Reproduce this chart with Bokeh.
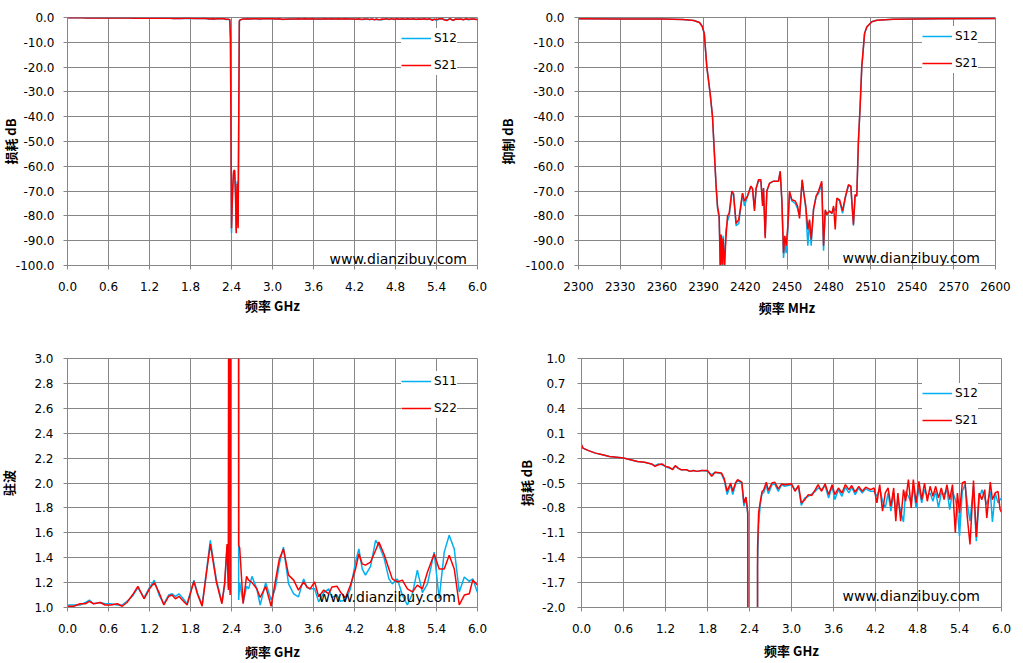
from bokeh.plotting import figure
from bokeh.models import Range1d, FixedTicker, PrintfTickFormatter, Legend, LegendItem, Label
from bokeh.layouts import row, column
from bokeh.embed import file_html
from bokeh.resources import INLINE

# ---------------- data ----------------
# broadband insertion loss, 0-6 GHz (S12 / S21, dB)
bb_freq_ghz = [0.00, 0.02, 0.10, 0.20, 0.30, 0.40, 0.50, 0.60, 0.70, 0.80, 0.90, 1.00, 1.05, 1.10, 1.15,
               1.20, 1.25, 1.30, 1.34, 1.38, 1.42, 1.50, 1.55, 1.60, 1.65, 1.72, 1.80, 1.86, 1.91, 2.00,
               2.04, 2.08, 2.13, 2.16, 2.20, 2.23, 2.29, 2.32, 2.35, 2.375, 2.385, 2.40, 2.415, 2.43, 2.445,
               2.459, 2.469, 2.483, 2.497, 2.508, 2.515, 2.53, 2.555, 2.58, 2.60, 2.64, 2.67, 2.72, 2.76,
               2.81, 2.86, 2.90, 3.00, 3.05, 3.10, 3.14, 3.19, 3.24, 3.29, 3.34, 3.38, 3.43, 3.48, 3.53,
               3.58, 3.62, 3.67, 3.72, 3.77, 3.82, 3.86, 3.91, 3.96, 4.01, 4.06, 4.13, 4.18, 4.22, 4.26,
               4.30, 4.34, 4.38, 4.42, 4.46, 4.49, 4.52, 4.56, 4.60, 4.63, 4.67, 4.71, 4.74, 4.78, 4.82,
               4.86, 4.90, 4.94, 4.98, 5.02, 5.06, 5.10, 5.14, 5.18, 5.22, 5.26, 5.30, 5.34, 5.37, 5.40,
               5.44, 5.48, 5.51, 5.55, 5.60, 5.64, 5.68, 5.72, 5.76, 5.79, 5.84, 5.87, 5.91, 5.95, 5.98, 6.00]
bb_s21_db = [-0.04, -0.08, -0.11, -0.14, -0.16, -0.18, -0.19, -0.20, -0.22, -0.24, -0.25, -0.27, -0.30, -0.28, -0.27,
             -0.30, -0.31, -0.34, -0.29, -0.32, -0.34, -0.34, -0.36, -0.35, -0.36, -0.35, -0.35, -0.42, -0.37, -0.38,
             -0.45, -0.60, -0.50, -0.60, -0.50, -0.46, -0.49, -0.74, -0.67, -0.85, -8.0, -85.0, -70.0, -62.0, -61.5,
             -71.0, -87.0, -67.0, -85.0, -30.0, -1.30, -0.86, -0.72, -0.60, -0.59, -0.49, -0.59, -0.50, -0.49,
             -0.57, -0.51, -0.52, -0.51, -0.60, -0.53, -0.74, -0.70, -0.64, -0.65, -0.58, -0.52, -0.60, -0.51, -0.64,
             -0.52, -0.64, -0.56, -0.62, -0.52, -0.58, -0.53, -0.61, -0.54, -0.60, -0.55, -0.58, -0.56, -0.74, -0.52,
             -0.84, -0.62, -0.56, -0.78, -0.56, -0.96, -0.62, -0.96, -0.58, -0.72, -0.46, -0.80, -0.46, -0.74, -0.48,
             -0.70, -0.50, -0.72, -0.54, -0.66, -0.54, -0.68, -0.56, -0.70, -0.52, -0.70, -0.52, -1.10, -0.62, -0.86,
             -0.50, -0.48, -0.90, -1.24, -0.47, -1.15, -0.62, -0.70, -0.58, -0.92, -0.49, -0.70, -0.62, -0.60, -0.82, -0.85]
bb_s12_db = [-0.04, -0.08, -0.11, -0.14, -0.16, -0.18, -0.19, -0.20, -0.22, -0.24, -0.25, -0.27, -0.29, -0.27, -0.28,
             -0.30, -0.32, -0.33, -0.30, -0.32, -0.34, -0.34, -0.36, -0.35, -0.36, -0.35, -0.36, -0.40, -0.37, -0.39,
             -0.47, -0.64, -0.52, -0.64, -0.52, -0.47, -0.50, -0.78, -0.68, -0.88, -9.0, -87.0, -72.0, -63.0, -62.0,
             -72.0, -86.0, -66.0, -84.0, -32.0, -1.50, -1.00, -0.75, -0.62, -0.62, -0.53, -0.63, -0.52, -0.51,
             -0.60, -0.52, -0.54, -0.52, -0.58, -0.55, -0.77, -0.68, -0.66, -0.63, -0.60, -0.56, -0.58, -0.53, -0.68,
             -0.54, -0.70, -0.58, -0.66, -0.55, -0.62, -0.55, -0.64, -0.56, -0.62, -0.57, -0.60, -0.60, -0.66, -0.56,
             -0.72, -0.80, -0.62, -0.84, -0.62, -0.86, -0.70, -0.84, -0.97, -0.60, -0.66, -0.74, -0.54, -0.80, -0.56,
             -0.74, -0.58, -0.66, -0.62, -0.72, -0.60, -0.80, -0.62, -0.64, -0.58, -0.82, -0.60, -0.70, -0.82, -1.14,
             -0.60, -0.52, -0.74, -0.96, -0.54, -1.20, -0.70, -0.58, -0.68, -0.76, -0.60, -0.97, -0.62, -0.74, -0.70, -0.68]

# narrowband rejection, 2300-2600 MHz (S12 / S21, dB)
nb_freq_mhz = [2300, 2330, 2360, 2375, 2383, 2387, 2389, 2390.5, 2392.3, 2394.7, 2396.4, 2397.6, 2399.0, 2400.0,
               2401.2, 2402.0, 2402.6, 2403.4, 2404.0, 2405.0, 2406.0, 2407.2, 2408.4, 2410.3, 2411.5, 2413.4,
               2415.3, 2418.0, 2419.4, 2421.6, 2424.0, 2425.2, 2426.6, 2427.8, 2429.5, 2431.2, 2432.4, 2433.1,
               2434.3, 2435.5, 2437.4, 2440.3, 2443.9, 2445.1, 2446.3, 2447.5, 2448.4, 2449.4, 2450.6, 2451.8,
               2453.5, 2455.9, 2457.6, 2459.0, 2460.9, 2461.9, 2463.5, 2465.0, 2466.2, 2467.4, 2469.1, 2471.0,
               2472.7, 2475.0, 2476.3, 2477.5, 2478.7, 2480.6, 2482.3, 2483.5, 2484.7, 2485.9, 2487.8, 2490.0,
               2491.8, 2494.2, 2495.9, 2497.8, 2499.0, 2500.2, 2501.4, 2502.6, 2503.8, 2505.8, 2507.4, 2511.0,
               2514.6, 2526.6, 2560, 2600]
nb_s21_db = [-0.5, -0.6, -0.6, -0.8, -1.2, -2.0, -3.5, -6.5, -19.8, -30.6, -40.0, -53.0, -68.0, -76.0,
             -80.0, -100.5, -87.5, -99.6, -89.0, -101.0, -89.5, -80.0, -79.0, -70.0, -71.0, -83.0,
             -81.5, -70.8, -74.0, -72.0, -68.0, -69.0, -78.0, -68.8, -65.4, -65.4, -76.0, -68.8,
             -89.0, -70.0, -66.8, -66.0, -66.0, -62.0, -73.5, -95.0, -88.0, -92.0, -84.0, -70.0,
             -73.5, -74.0, -76.0, -81.0, -65.4, -70.0, -76.0, -85.5, -81.5, -89.5, -77.5, -72.0,
             -70.0, -66.0, -92.0, -77.5, -79.5, -78.0, -79.0, -76.0, -85.5, -72.8, -73.5, -78.0,
             -72.8, -67.4, -68.0, -83.5, -71.4, -72.0, -49.3, -36.0, -19.8, -6.4, -3.8, -1.7,
             -1.1, -0.7, -0.5, -0.4]
nb_s12_db = [-0.5, -0.6, -0.6, -0.8, -1.2, -2.0, -3.5, -6.5, -19.8, -30.6, -40.0, -53.0, -68.0, -77.0,
             -81.0, -101.0, -90.0, -101.0, -88.0, -101.0, -86.0, -82.0, -80.0, -71.0, -71.0, -84.0,
             -83.0, -71.0, -76.0, -72.0, -68.0, -69.0, -77.0, -69.0, -66.0, -66.0, -74.0, -69.0,
             -88.0, -70.0, -67.0, -66.0, -66.0, -62.0, -74.0, -97.0, -91.0, -95.0, -86.0, -71.0,
             -74.0, -75.0, -77.0, -80.0, -66.0, -70.0, -77.0, -92.0, -82.0, -92.0, -77.0, -72.0,
             -71.0, -67.0, -94.0, -78.0, -79.0, -78.0, -79.0, -77.0, -78.0, -73.0, -74.0, -79.0,
             -73.0, -68.0, -68.0, -84.0, -72.0, -72.0, -50.0, -36.0, -20.0, -6.5, -3.8, -1.7,
             -1.1, -0.7, -0.5, -0.4]

# VSWR, 0-6 GHz (S11 / S22)
vs_freq_ghz = [0.00, 0.09, 0.185, 0.26, 0.32, 0.38, 0.48, 0.55, 0.63, 0.73, 0.80, 0.87, 0.95, 1.03, 1.12,
               1.20, 1.27, 1.34, 1.41, 1.48, 1.53, 1.58, 1.63, 1.68, 1.75, 1.85, 1.90, 1.97, 2.09, 2.18,
               2.26, 2.30, 2.335, 2.355, 2.37, 2.38, 2.395, 2.50, 2.505, 2.52, 2.57, 2.62, 2.65, 2.70,
               2.77, 2.82, 2.90, 2.98, 3.04, 3.10, 3.16, 3.235, 3.31, 3.38, 3.455, 3.505, 3.55, 3.617,
               3.676, 3.75, 3.823, 3.87, 3.945, 3.994, 4.068, 4.141, 4.215, 4.264, 4.313, 4.36, 4.435,
               4.509, 4.557, 4.631, 4.704, 4.753, 4.827, 4.90, 4.974, 5.047, 5.12, 5.194, 5.268, 5.366,
               5.439, 5.513, 5.586, 5.66, 5.733, 5.807, 5.88, 5.93, 6.00]
vs_s22 = [1.01, 1.01, 1.03, 1.03, 1.05, 1.03, 1.04, 1.02, 1.02, 1.03, 1.01, 1.04, 1.10, 1.17, 1.07,
          1.15, 1.20, 1.12, 1.02, 1.09, 1.10, 1.07, 1.09, 1.06, 1.02, 1.21, 1.11, 1.01, 1.51, 1.20,
          1.03, 1.20, 1.51, 1.14, 10.0, 1.10, 10.0, 10.0, 1.50, 1.48, 1.03, 1.25, 1.22, 1.20,
          1.15, 1.08, 1.17, 1.01, 1.205, 1.39, 1.47, 1.26, 1.22, 1.14, 1.205, 1.165, 1.15, 1.205,
          1.085, 1.14, 1.11, 1.165, 1.17, 1.125, 1.077, 1.18, 1.31, 1.43, 1.35, 1.34, 1.365,
          1.46, 1.525, 1.43, 1.31, 1.23, 1.205, 1.22, 1.15, 1.125, 1.18, 1.15, 1.285, 1.43,
          1.31, 1.31, 1.42, 1.31, 1.02, 1.10, 1.11, 1.22, 1.18]
vs_s11 = [1.02, 1.02, 1.02, 1.04, 1.06, 1.03, 1.04, 1.03, 1.03, 1.02, 1.02, 1.05, 1.09, 1.16, 1.08,
          1.16, 1.22, 1.10, 1.03, 1.10, 1.11, 1.09, 1.11, 1.08, 1.03, 1.22, 1.12, 1.02, 1.54, 1.22,
          1.04, 1.18, 1.49, 1.16, 10.0, 1.12, 10.0, 10.0, 1.06, 1.20, 1.04, 1.17, 1.15, 1.25,
          1.15, 1.02, 1.20, 1.06, 1.15, 1.35, 1.485, 1.19, 1.11, 1.085, 1.23, 1.16, 1.15, 1.15,
          1.045, 1.12, 1.15, 1.08, 1.10, 1.05, 1.06, 1.15, 1.365, 1.47, 1.31, 1.26, 1.33,
          1.54, 1.50, 1.40, 1.23, 1.19, 1.23, 1.10, 1.02, 1.11, 1.30, 1.12, 1.19, 1.445,
          1.07, 1.445, 1.58, 1.47, 1.125, 1.245, 1.21, 1.23, 1.12]

# axis ticks
ghz_ticks = [0.0, 0.6, 1.2, 1.8, 2.4, 3.0, 3.6, 4.2, 4.8, 5.4, 6.0]
mhz_ticks = [2300, 2330, 2360, 2390, 2420, 2450, 2480, 2510, 2540, 2570, 2600]
db_ticks = [-100, -90, -80, -70, -60, -50, -40, -30, -20, -10, 0]
vswr_ticks = [1.0, 1.2, 1.4, 1.6, 1.8, 2.0, 2.2, 2.4, 2.6, 2.8, 3.0]
il_ticks = [-2.0, -1.7, -1.4, -1.1, -0.8, -0.5, -0.2, 0.1, 0.4, 0.7, 1.0]

GRID = "#868686"
BLUE = "#00B0F0"
RED = "#FF0000"
WATERMARK = "www.dianzibuy.com"
LABEL_FONT = "Noto Sans CJK SC"


def make_fig(width, height, borders, xr, yr, xticks, yticks, xfmt, yfmt, xlabel, ylabel,
             ylab_standoff, yaxis_standoff, xaxis_standoff):
    left, right, top, bottom = borders
    p = figure(width=width, height=height, x_range=Range1d(*xr), y_range=Range1d(*yr),
               output_backend="svg", toolbar_location=None,
               min_border_left=left, min_border_right=right,
               min_border_top=top, min_border_bottom=bottom)
    p.background_fill_color = "white"
    p.border_fill_color = "white"
    p.outline_line_color = GRID
    p.outline_line_width = 1
    p.xaxis.ticker = FixedTicker(ticks=xticks)
    p.yaxis.ticker = FixedTicker(ticks=yticks)
    p.xaxis.formatter = PrintfTickFormatter(format=xfmt)
    p.yaxis.formatter = PrintfTickFormatter(format=yfmt)
    p.xaxis.axis_label = xlabel
    p.yaxis.axis_label = ylabel
    for ax in (p.xaxis[0], p.yaxis[0]):
        ax.axis_line_color = GRID
        ax.major_tick_line_color = GRID
        ax.major_tick_out = 4
        ax.major_tick_in = 0
        ax.minor_tick_line_color = None
        ax.major_label_text_font = "DejaVu Sans"
        ax.major_label_text_font_size = "12px"
        ax.major_label_text_color = "black"
        ax.axis_label_text_font = LABEL_FONT
        ax.axis_label_text_font_style = "bold"
        ax.axis_label_text_font_size = "13px"
        ax.axis_label_text_color = "black"
    p.yaxis.major_label_standoff = ylab_standoff
    p.yaxis.axis_label_standoff = yaxis_standoff
    p.xaxis.major_label_standoff = 12
    p.xaxis.axis_label_standoff = xaxis_standoff
    p.grid.grid_line_color = GRID
    p.grid.grid_line_width = 1
    return p


def add_series(p, x, y_blue, y_red, names, legend_loc):
    rb = p.line(x, y_blue, line_color=BLUE, line_width=1.5)
    rr = p.line(x, y_red, line_color=RED, line_width=1.5)
    lg = Legend(items=[LegendItem(label=names[0], renderers=[rb]),
                       LegendItem(label=names[1], renderers=[rr])],
                location=legend_loc, glyph_width=30, glyph_height=20, label_height=20,
                label_standoff=3, spacing=7, padding=5, margin=0,
                border_line_color=None, background_fill_color="white", background_fill_alpha=1.0,
                label_text_font="DejaVu Sans", label_text_font_size="12px", label_text_color="black")
    p.add_layout(lg)


def add_watermark(p, x, y):
    p.add_layout(Label(x=x, y=y, text=WATERMARK, text_align="left", text_baseline="middle",
                       text_font="DejaVu Sans", text_font_size="14px", text_color="black"))


# top-left: broadband insertion loss
p1 = make_fig(510, 331, (85, 15, 14, 66), (0, 6), (-100, 0), ghz_ticks, db_ticks, "%.1f", "%.1f",
              "频率 GHz", "损耗 dB", 9, -7, 2)
add_series(p1, bb_freq_ghz, bb_s12_db, bb_s21_db, ("S12", "S21"), (334, 190))
add_watermark(p1, 3.834, -97.2)

# top-right: rejection zoom
p2 = make_fig(531, 331, (86, 28, 17, 65), (2300, 2600), (-100, 0), mhz_ticks, db_ticks, "%d", "%.1f",
              "频率 MHz", "抑制 dB", 10, 6, 4)
add_series(p2, nb_freq_mhz, nb_s12_db, nb_s21_db, ("S12", "S21"), (344, 192))
add_watermark(p2, 2489.9, -97.0)

# bottom-left: VSWR
p3 = make_fig(510, 332, (85, 15, 24, 56), (0, 6), (1.0, 3.0), ghz_ticks, vswr_ticks, "%.1f", "%.1f",
              "频率 GHz", "驻波", 10, 13, 6)
add_series(p3, vs_freq_ghz, vs_s11, vs_s22, ("S11", "S22"), (334, 189))
add_watermark(p3, 3.673, 1.083)

# bottom-right: insertion loss zoom
p4 = make_fig(531, 332, (89, 22, 27, 55), (0, 6), (-2.0, 1.0), ghz_ticks, il_ticks, "%.1f", "%.1f",
              "频率 GHz", "损耗 dB", 12, 3, 5)
add_series(p4, bb_freq_ghz, bb_s12_db, bb_s21_db, ("S12", "S21"), (341, 177))
add_watermark(p4, 3.729, -1.862)

layout = column(row(p1, p2), row(p3, p4), margin=(0, 0, 0, -18))

open("out.html", "w").write(file_html(layout, INLINE))
